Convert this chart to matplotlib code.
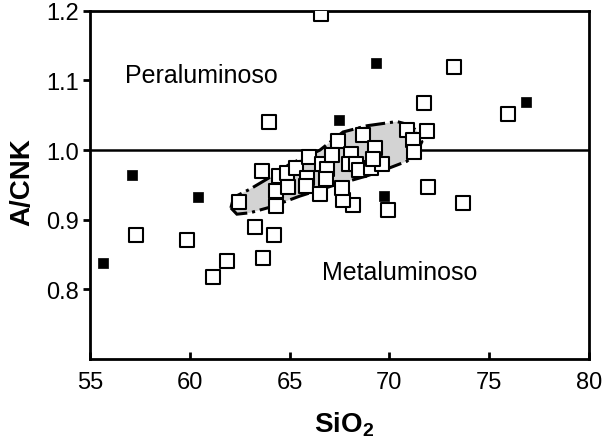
import matplotlib
matplotlib.use("Agg")
import matplotlib.pyplot as plt
from matplotlib.patches import Polygon

plt.rcParams['font.family'] = ['Liberation Sans', 'DejaVu Sans']
plt.rcParams['mathtext.fontset'] = 'custom'
plt.rcParams['mathtext.rm'] = 'Liberation Sans'
plt.rcParams['mathtext.bf'] = 'Liberation Sans:bold'

# Open squares (SiO2, A/CNK)
open_sio2 = [57.3, 59.86, 61.86, 61.16, 63.27, 64.22, 63.67, 64.32, 62.47, 63.97,
             66.6, 73.24, 75.94, 73.7, 71.93, 69.93, 68.2, 67.67, 71.73,
             63.6, 64.47, 64.87, 65.32, 64.32, 64.92, 65.97, 65.87, 65.82, 66.52,
             66.62, 66.87, 67.42, 68.68, 70.88, 71.88, 71.18, 71.23, 69.28, 67.12,
             68.08, 68.0, 68.35, 68.5, 69.08, 69.63, 69.18, 66.82, 67.62]
open_acnk = [0.878, 0.871, 0.841, 0.818, 0.890, 0.878, 0.845, 0.920, 0.925, 1.040,
             1.196, 1.120, 1.052, 0.924, 0.947, 0.914, 0.921, 0.928, 1.068,
             0.970, 0.963, 0.967, 0.974, 0.941, 0.947, 0.990, 0.960, 0.948, 0.937,
             0.980, 0.973, 1.013, 1.022, 1.029, 1.027, 1.014, 0.997, 1.003, 0.993,
             0.994, 0.980, 0.980, 0.972, 0.974, 0.980, 0.987, 0.959, 0.946]

# Filled squares
fill_sio2 = [55.65, 57.1, 60.4, 67.5, 69.73, 69.33, 76.84]
fill_acnk = [0.838, 0.964, 0.933, 1.043, 0.934, 1.125, 1.069]

# Shaded field outline
field_sio2 = [62.06, 62.16, 62.26, 63.02, 64.02, 65.02, 66.52, 67.68, 68.88, 70.38,
              71.03, 71.43, 71.63, 71.38, 70.88, 69.88, 68.88, 67.17, 65.52, 64.02,
              63.02, 62.36]
field_acnk = [0.917, 0.928, 0.933, 0.944, 0.961, 0.980, 1.000, 1.026, 1.035, 1.041,
              1.036, 1.026, 1.012, 0.997, 0.984, 0.973, 0.963, 0.949, 0.934, 0.918,
              0.910, 0.908]

xticks = [55, 60, 65, 70, 75, 80]
yticks = [0.8, 0.9, 1.0, 1.1, 1.2]

fig = plt.figure(figsize=(6.04, 4.39), dpi=100)
ax = fig.add_axes([0.149, 0.180, 0.826, 0.793])

poly = Polygon(list(zip(field_sio2, field_acnk)), closed=True,
               facecolor='#d3d3d3', edgecolor='black', linewidth=2.2,
               linestyle='-.', zorder=2)
ax.add_patch(poly)

ax.axhline(1.0, color='black', linewidth=1.8, zorder=1)

ax.scatter(open_sio2, open_acnk, marker='s', s=95, facecolor='white',
           edgecolor='black', linewidth=1.5, zorder=3)
ax.scatter(fill_sio2, fill_acnk, marker='s', s=60, facecolor='black',
           edgecolor='black', linewidth=0.5, zorder=4)

ax.text(56.75, 1.098, 'Peraluminoso', fontsize=18, va='baseline', ha='left')
ax.text(66.62, 0.815, 'Metaluminoso', fontsize=18, va='baseline', ha='left')

ax.set_xlim(55, 80)
ax.set_ylim(0.7, 1.2)
ax.set_xticks(xticks)
ax.set_yticks(yticks)
ax.set_yticklabels(['%.1f' % v for v in yticks])

ax.tick_params(axis='x', direction='in', length=5, width=2, labelsize=17, pad=9)
ax.tick_params(axis='y', direction='out', length=5, width=2, labelsize=17, pad=3)
for sp in ax.spines.values():
    sp.set_linewidth(2)

ax.set_xlabel(r'$\mathbf{SiO_2}$', fontsize=20)
ax.set_ylabel('A/CNK', fontsize=20, fontweight='bold')
ax.xaxis.set_label_coords(0.509, -0.145)
ax.yaxis.set_label_coords(-0.11, 0.51)

fig.savefig('out.png', dpi=100)
